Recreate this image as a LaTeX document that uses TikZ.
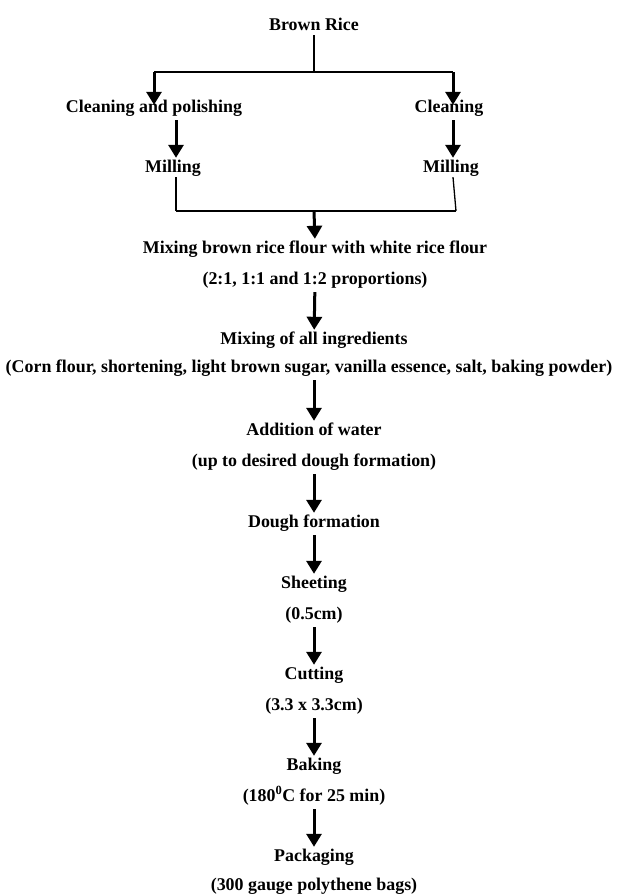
\documentclass[tikz,border=0pt]{standalone}
\usepackage{fontspec}
\setmainfont{Liberation Serif}
\usetikzlibrary{arrows.meta}
\begin{document}
\begin{tikzpicture}[x=1pt,y=-1pt]

        % styles
        \tikzstyle{stage} = [inner sep=0pt, yshift=-3pt, text height=11pt, text depth=5pt, font=\fontsize{17.9}{20}\selectfont\bfseries]
        \tikzstyle{arrow} = [line width=3pt, -{Triangle[length=13pt,width=15pt]}, shorten <=3pt, shorten >=3pt]
        \tikzstyle{link} = [line width=1.3pt]

        \useasboundingbox (0,0) rectangle (618,894);

        % nodes
        \node (rice) [stage] at (314,24) {Brown Rice};
        \node (polish) [stage] at (154,106) {Cleaning and polishing};
        \node (clean) [stage] at (449,106) {Cleaning};
        \node (millL) [stage] at (173,166) {Milling};
        \node (millR) [stage] at (451,166) {Milling};
        \node (flour) [stage] at (315,247) {Mixing brown rice flour with white rice flour};
        \node (ratio) [stage] at (315,278) {(2:1, 1:1 and 1:2 proportions)};
        \node (ingr) [stage] at (314,338) {Mixing of all ingredients};
        \node (list) [stage] at (309,366) {(Corn flour, shortening, light brown sugar, vanilla essence, salt, baking powder)};
        \node (water) [stage] at (314,429) {Addition of water};
        \node (upto) [stage] at (314,460) {(up to desired dough formation)};
        \node (dough) [stage] at (314,521) {Dough formation};
        \node (sheet) [stage] at (314,582) {Sheeting};
        \node (thick) [stage] at (314,613) {(0.5cm)};
        \node (cut) [stage] at (314,673) {Cutting};
        \node (size) [stage] at (314,704) {(3.3 x 3.3cm)};
        \node (bake) [stage] at (314,764) {Baking};
        \node (temp) [stage] at (314,795) {(180\textsuperscript{0}C for 25 min)};
        \node (pack) [stage] at (314,855) {Packaging};
        \node (bags) [stage] at (314,884) {(300 gauge polythene bags)};

        \coordinate (split) at (314,72);
        \coordinate (splitL) at (154,72);
        \coordinate (splitR) at (453,72);
        \coordinate (joinL) at (176,211);
        \coordinate (joinR) at (456,211);
        \coordinate (join) at (314,211);

        % branches
        \draw [link] (rice) -- (split);
        \draw [link] (splitL) -- (splitR);
        \draw [arrow, shorten <=0pt, shorten >=-4pt] (splitL) -- (splitL |- polish.north);
        \draw [arrow, shorten <=0pt, shorten >=-4pt] (splitR) -- (splitR |- clean.north);
        \draw [arrow] (polish.south -| joinL) -- (joinL |- millL.north);
        \draw [arrow] (clean.south -| splitR) -- (splitR |- millR.north);
        \draw [link] (joinL |- millL.south) -- (joinL);
        \draw [link] (splitR |- millR.south) -- (joinR);
        \draw [link] (joinL) -- (joinR);

        % main line
        \draw [arrow, shorten <=0pt] (join) -- (flour.north);
        \draw [arrow] (ratio) -- (ingr);
        \draw [arrow] (list.south -| ingr) -- (water);
        \draw [arrow] (upto) -- (dough);
        \draw [arrow] (dough) -- (sheet);
        \draw [arrow] (thick) -- (cut);
        \draw [arrow] (size) -- (bake);
        \draw [arrow] (temp) -- (pack);

    \end{tikzpicture}
\end{document}
